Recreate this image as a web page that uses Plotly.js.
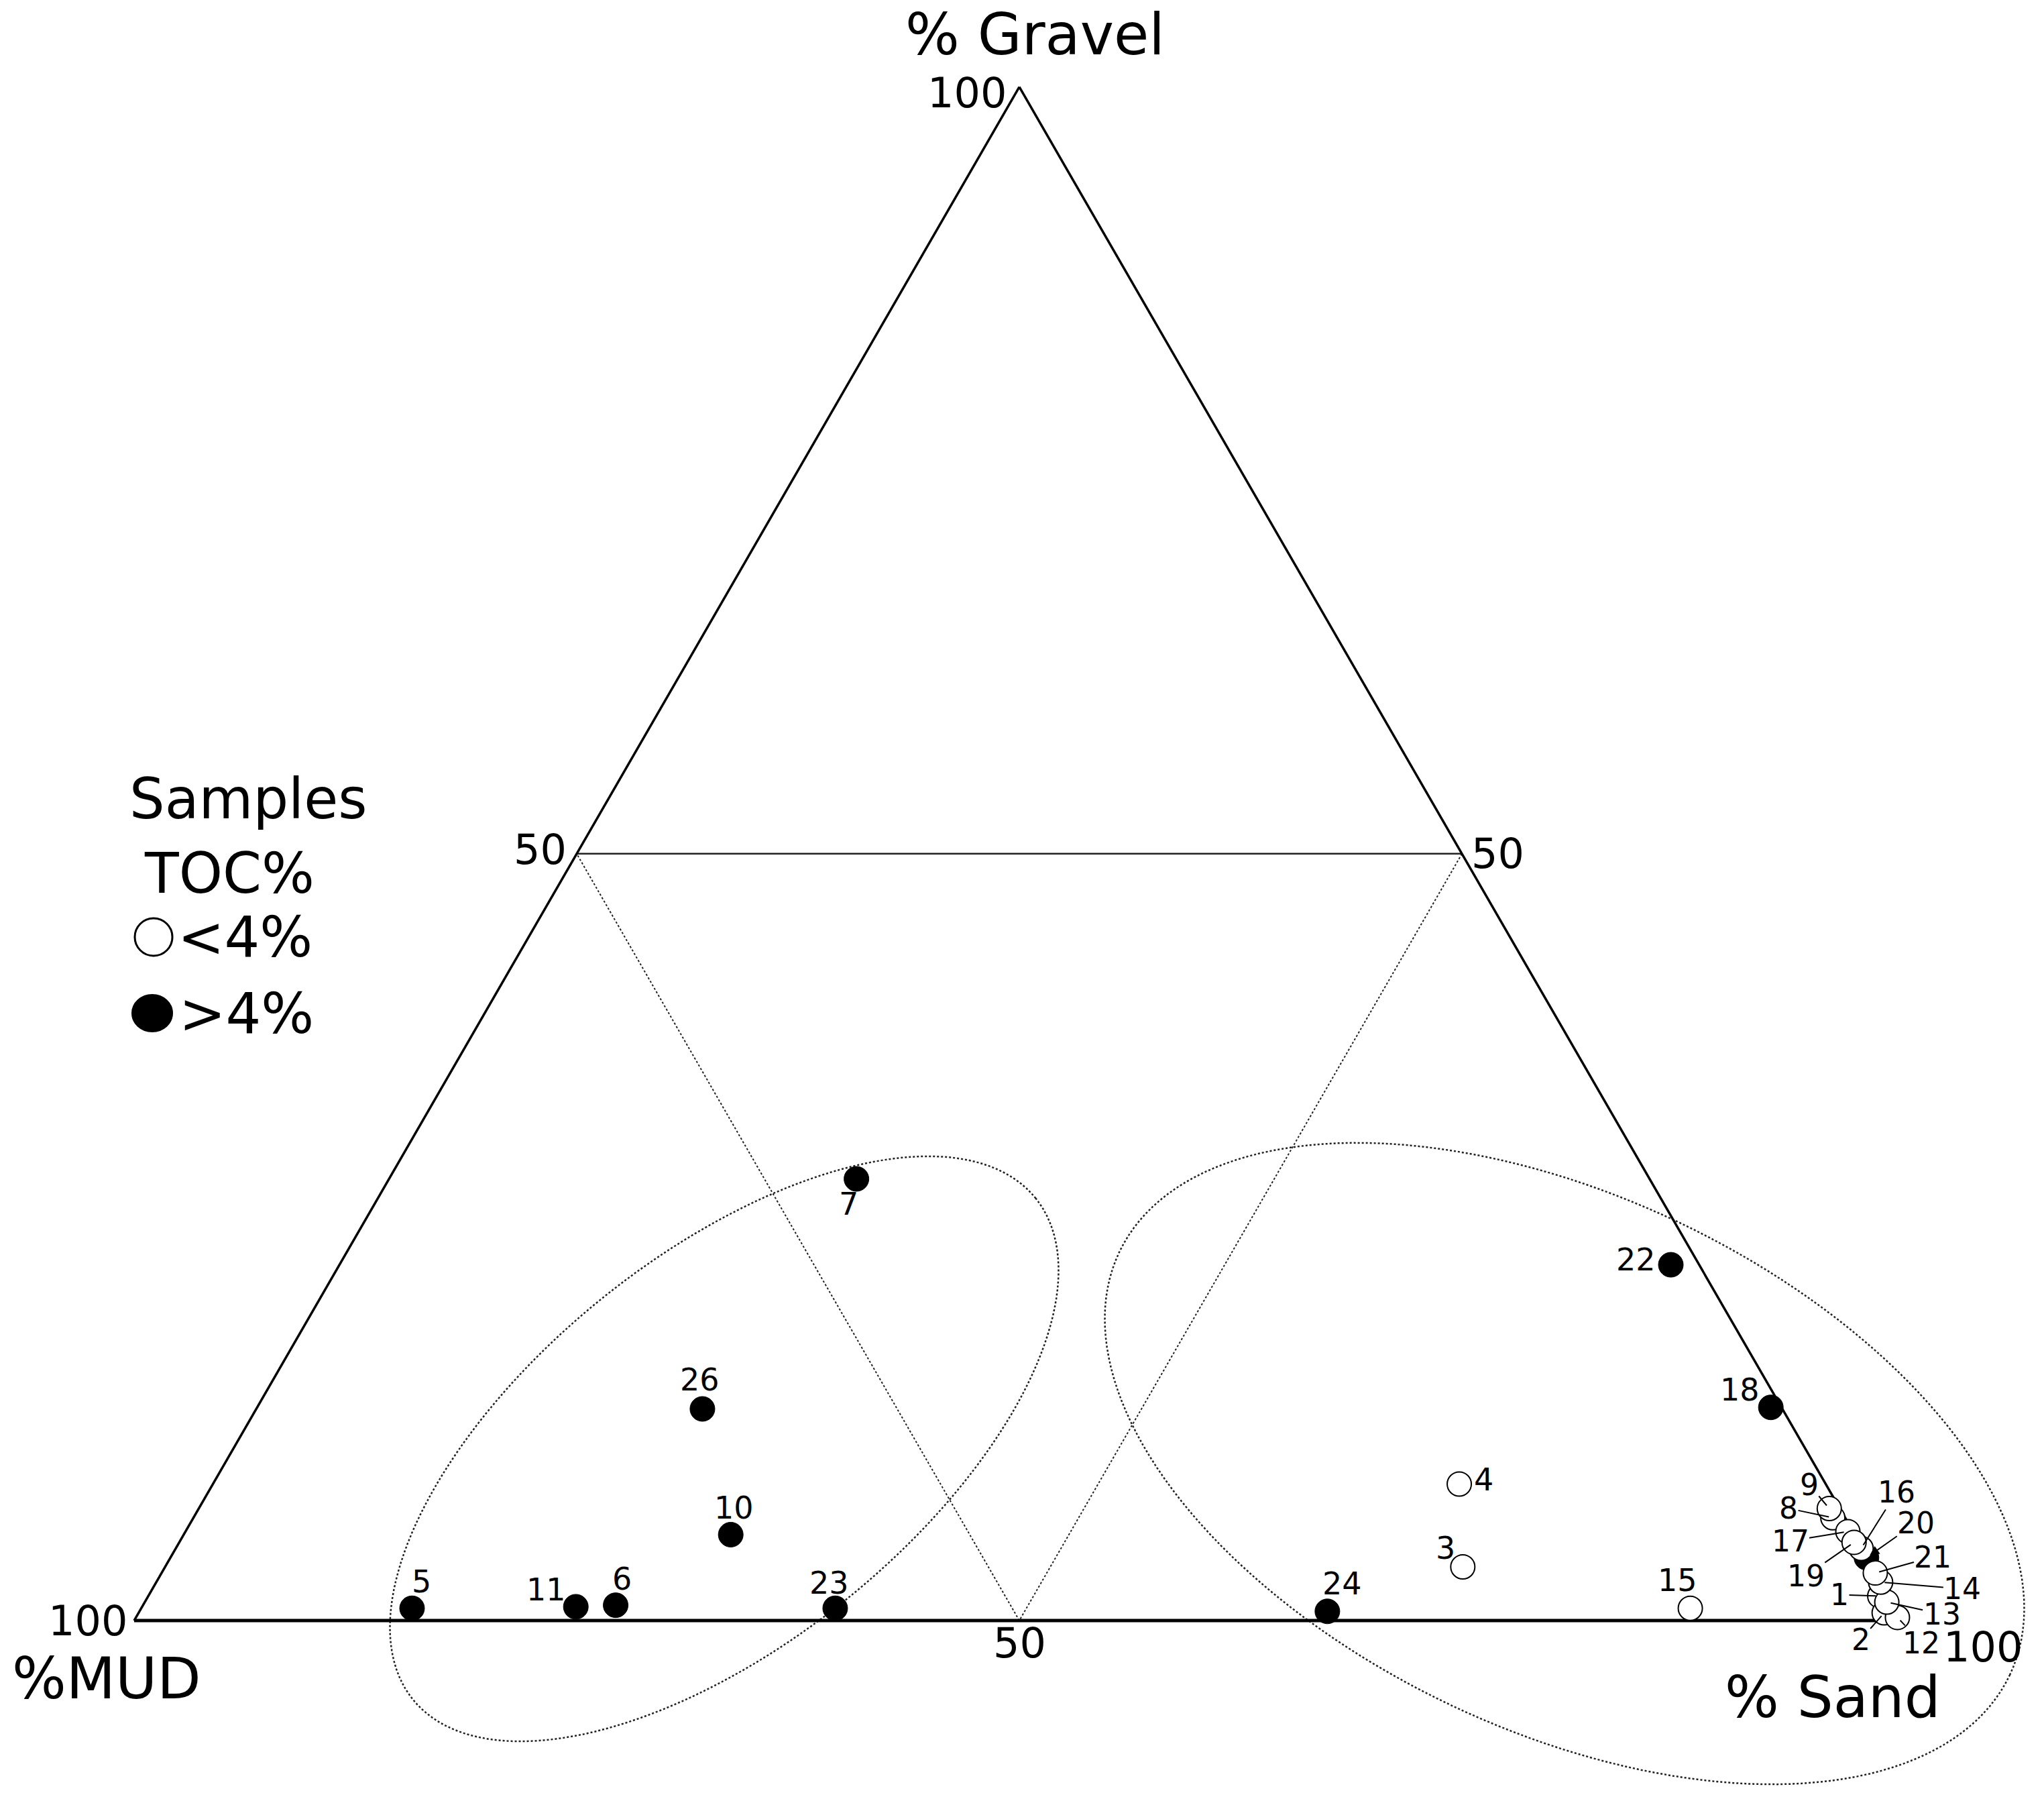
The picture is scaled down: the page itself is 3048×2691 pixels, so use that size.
<!DOCTYPE html>
<html>
<head>
<meta charset="utf-8">
<script src="https://cdn.plot.ly/plotly-3.0.1.min.js"></script>
<style>html,body{margin:0;padding:0;background:#fff;}</style>
</head>
<body>
<div id="chart" style="width:3048px;height:2691px;"></div>
<script>
// ---------------- DATA ----------------
// Samples with TOC < 4% (open circles)
const lowIds    = [1, 2, 3, 4, 8, 9, 12, 13, 14, 15, 16, 17, 19, 21];
const lowGravel = [1.6, 0.5, 3.5, 8.9, 6.7, 7.3, 0.2, 1.2, 2.5, 0.8, 4.7, 5.8, 5.1, 3.1];
const lowSand   = [97.8, 98.6, 73.3, 70.4, 92.6, 92.1, 99.5, 98.4, 97.4, 87.5, 95.2, 93.9, 94.6, 96.8];
const lowMud    = [0.6, 0.9, 23.2, 20.7, 0.7, 0.6, 0.3, 0.4, 0.1, 11.7, 0.1, 0.3, 0.3, 0.1];

// Samples with TOC > 4% (filled circles)
const highIds    = [5, 6, 7, 10, 11, 18, 20, 22, 23, 24, 26];
const highGravel = [0.8, 1.0, 28.8, 5.6, 0.9, 13.9, 4.1, 23.2, 0.8, 0.6, 13.8];
const highSand   = [15.3, 26.7, 26.4, 30.9, 24.5, 85.5, 95.8, 75.2, 39.2, 67.1, 25.2];
const highMud    = [83.9, 72.3, 44.8, 63.5, 74.6, 0.6, 0.1, 1.6, 60.0, 32.3, 61.0];

const tickValues  = [50, 100];
const titleGravel = '% Gravel';
const titleMud    = '%MUD';
const titleSand   = '% Sand';
const legendLines = ['Samples', 'TOC%'];
const classNames  = ['<4%', '>4%'];

// ---------------- STYLE / LAYOUT GEOMETRY ----------------
const PAGE_W = 3048, PAGE_H = 2691;
const TRI_LEFT = 200, TRI_WIDTH = 2640, TRI_BASE = 2416;
const TRI_HEIGHT = TRI_WIDTH * Math.sqrt(3) / 2;
const FONT = 'DejaVu Sans, Verdana, sans-serif';

const px2x = x => x / PAGE_W;
const px2y = y => 1 - y / PAGE_H;
// same projection as the ternary subplot (a = gravel top, b = mud left, c = sand right)
function ternToPx(g, s, m) {
  const t = g + s + m;
  const gg = g / t, ss = s / t;
  return [TRI_LEFT + TRI_WIDTH * (ss + gg / 2), TRI_BASE - TRI_HEIGHT * gg];
}

// label offsets (px) relative to the marker; lead = leader line drawn
const labelStyle = {
  5: [14, -40], 11: [-44, -25], 6: [9, -39], 23: [-9, -38], 10: [5, -40], 26: [-4, -43],
  7: [-12, 37], 24: [22, -41], 4: [36, -7], 3: [-26, -28], 15: [-19, -42], 22: [-52, -8], 18: [-46, -26],
  9: [-30, -36, 'lead'], 8: [-66, -14, 'lead'], 17: [-86, 14, 'lead'], 19: [-72, 50, 'lead'],
  16: [53, -84, 'lead'], 20: [74, -52, 'arrow'], 21: [86, -24, 'lead'], 14: [122, 10, 'lead'],
  1: [-60, -2, 'lead'], 13: [82, 18, 'lead'], 2: [-35, 40, 'lead'], 12: [36, 38, 'lead']
};

// tick-label offsets (px) from the point where each axis reaches the value
const tickLabelStyle = {
  gravel: {50: [-55, -6], 100: [-78, 9]},
  mud:    {50: [0, 33], 100: [-69, 0]},
  sand:   {50: [53, 0], 100: [117, 39]}
};

// grouping ellipses (page px): centre, semi-axes, visual rotation (deg, counter-clockwise)
const ellipseStyle = [
  {cx: 1080, cy: 2160, a: 596, b: 289, rot: 38.8},
  {cx: 2333, cy: 2182, a: 735, b: 398, rot: -25.4}
];

function ellipsePath(e) {
  const th = e.rot * Math.PI / 180;
  let d = '';
  const n = 180;
  for (let i = 0; i <= n; i++) {
    const t = 2 * Math.PI * i / n;
    const x = e.cx + e.a * Math.cos(t) * Math.cos(th) - e.b * Math.sin(t) * Math.sin(th);
    const y = e.cy - (e.a * Math.cos(t) * Math.sin(th) + e.b * Math.sin(t) * Math.cos(th));
    d += (i === 0 ? 'M' : 'L') + px2x(x).toFixed(5) + ',' + px2y(y).toFixed(5);
  }
  return d + 'Z';
}

// ---------------- TRACES ----------------
const traceHigh = {
  type: 'scatterternary', mode: 'markers', name: classNames[1],
  a: highGravel, b: highMud, c: highSand, text: highIds.map(String),
  cliponaxis: false, showlegend: false,
  marker: {size: 37, color: '#000', line: {color: '#000', width: 1}}
};
const traceLow = {
  type: 'scatterternary', mode: 'markers', name: classNames[0],
  a: lowGravel, b: lowMud, c: lowSand, text: lowIds.map(String),
  cliponaxis: false, showlegend: false,
  marker: {size: 36, color: '#fff', line: {color: '#000', width: 2}}
};

// ---------------- ANNOTATIONS ----------------
const annotations = [];
function addLabels(ids, G, S, M) {
  ids.forEach((id, i) => {
    const [px, py] = ternToPx(G[i], S[i], M[i]);
    const st = labelStyle[id];
    const base = {
      x: px2x(px), y: px2y(py), xref: 'paper', yref: 'paper', text: String(id),
      font: {family: FONT, size: st[2] ? 44 : 46, color: '#000'}, borderpad: 0
    };
    if (st[2]) {
      Object.assign(base, {
        showarrow: true, ax: st[0], ay: st[1], axref: 'pixel', ayref: 'pixel',
        arrowcolor: '#000', arrowwidth: 2, standoff: 6,
        arrowhead: st[2] === 'arrow' ? 2 : 0, arrowsize: 1.4
      });
    } else {
      Object.assign(base, {showarrow: false, xshift: st[0], yshift: -st[1],
        xanchor: 'center', yanchor: 'middle'});
    }
    annotations.push(base);
  });
}
addLabels(highIds, highGravel, highSand, highMud);
addLabels(lowIds, lowGravel, lowSand, lowMud);

function txt(text, x, y, size, xanchor) {
  return {text: text, x: px2x(x), y: px2y(y), xref: 'paper', yref: 'paper', showarrow: false,
    xanchor: xanchor || 'center', yanchor: 'middle', borderpad: 0,
    font: {family: FONT, size: size, color: '#000'}};
}

// axis value labels at the 50 % points and the 100 % corners
tickValues.forEach(v => {
  const r = 100 - v;
  const spots = {
    gravel: ternToPx(v, 0, r),   // on the left edge (sand = 0)
    mud:    ternToPx(0, r, v),   // on the base (gravel = 0)
    sand:   ternToPx(r, v, 0)    // on the right edge (mud = 0)
  };
  Object.keys(spots).forEach(k => {
    const [px, py] = spots[k];
    const off = tickLabelStyle[k][v];
    annotations.push(txt(String(v), px + off[0], py + off[1], 62));
  });
});

annotations.push(txt(titleGravel, 1544, 52, 85));
annotations.push(txt(titleMud, 159, 2502, 85));
annotations.push(txt(titleSand, 2733, 2530, 85));
// legend text
annotations.push(txt(legendLines[0], 192, 1192, 83, 'left'));
annotations.push(txt(legendLines[1], 214, 1302, 83, 'left'));
annotations.push(txt(classNames[0], 264, 1398, 83, 'left'));
annotations.push(txt(classNames[1], 266, 1511, 83, 'left'));

// ---------------- SHAPES ----------------
const shapes = ellipseStyle.map(e => ({
  type: 'path', xref: 'paper', yref: 'paper', path: ellipsePath(e),
  line: {color: '#222', width: 2.5, dash: 'dot'}, layer: 'below'
}));
// legend symbols
shapes.push({type: 'circle', xref: 'paper', yref: 'paper',
  x0: px2x(201), x1: px2x(257), y0: px2y(1425), y1: px2y(1369),
  line: {color: '#000', width: 3}, fillcolor: '#fff'});
shapes.push({type: 'circle', xref: 'paper', yref: 'paper',
  x0: px2x(197), x1: px2x(257), y0: px2y(1538), y1: px2y(1483),
  line: {color: '#000', width: 2}, fillcolor: '#000'});

// ---------------- LAYOUT ----------------
function axisStyle(dash, gw, lw) {
  return {
    title: {text: ''}, min: 0,
    tickmode: 'array', tickvals: tickValues,
    ticks: '', showticklabels: false,
    showline: true, linecolor: '#000', linewidth: lw,
    showgrid: true, gridcolor: '#222', gridwidth: gw, griddash: dash,
    layer: 'below traces'
  };
}

const layout = {
  width: PAGE_W, height: PAGE_H,
  margin: {l: 0, r: 0, t: 0, b: 0, pad: 0},
  paper_bgcolor: '#fff', showlegend: false,
  ternary: {
    sum: 100, bgcolor: 'rgba(0,0,0,0)',
    domain: {x: [px2x(TRI_LEFT), px2x(TRI_LEFT + TRI_WIDTH)],
             y: [px2y(TRI_BASE), px2y(TRI_BASE - TRI_HEIGHT)]},
    aaxis: axisStyle('solid', 2.5, 3.5),
    baxis: axisStyle('dot', 2, 5),
    caxis: axisStyle('dot', 2, 3.5)
  },
  annotations: annotations,
  shapes: shapes
};

Plotly.newPlot('chart', [traceHigh, traceLow], layout, {displayModeBar: false, staticPlot: true});
</script>
</body>
</html>
